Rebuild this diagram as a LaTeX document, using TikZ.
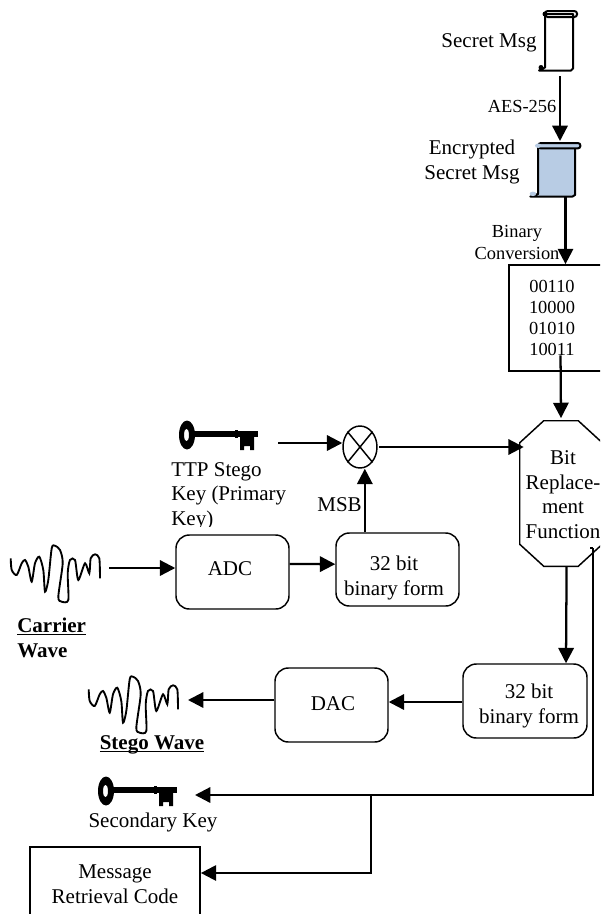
\documentclass[tikz,border=0pt]{standalone}
\usepackage{fontspec}
\setmainfont{Liberation Serif}
\usetikzlibrary{arrows.meta, shapes.geometric}

\definecolor{scrollblue}{HTML}{B8CCE4}

\tikzset{
  big/.style={font=\fontsize{15.75}{18.4}\selectfont, align=center, inner sep=0pt},
  heavy/.style={font=\fontsize{15.75}{18.4}\selectfont\bfseries, inner sep=0pt},
  small/.style={font=\fontsize{13.8}{16.2}\selectfont, align=center, inner sep=0pt},
  roundbox/.style={draw, line width=1.1pt, rounded corners=10pt, inner sep=0pt},
  squarebox/.style={draw, line width=1.3pt, inner sep=0pt},
  flow/.style={line width=1.7pt, -{Triangle[length=11.5pt, width=11.5pt]}},
  wire/.style={line width=1.7pt},
  waveicon/.pic={
    \draw[line width=1.4pt] plot[smooth, tension=0.45] coordinates {(0.7,13.3) (1.7,25) (6.7,30) (11.7,18.3) (15,15) (18.3,21.7) (21.7,36.7) (25,18.3) (29.3,11.7) (33.3,25) (35,46.7) (38.3,35) (41.7,3.3) (45,0.7) (50,5) (52.7,18.3) (48.3,51.7) (51.7,56.7) (58.3,55) (57.7,28.3) (60,15) (65,15) (68.3,35) (75,18.3) (79.3,28.3) (80.7,13.3) (85,9.3) (89.3,13.3) (90,33.3)};
  },
  keyicon/.pic={
    \fill[even odd rule] (8,15) ellipse [x radius=8, y radius=14.5] (7.5,15) ellipse [x radius=2.5, y radius=6.5];
    \fill (14,11) rectangle (79,17);
    \fill (56,10) rectangle (59,18);
    \fill (61,17) -- (75,17) -- (75,30) -- (71,30) -- (71,26) -- (65,26) -- (65,30) -- (61,30) -- cycle;
  },
  scrollicon/.pic={
    \draw[line width=1.5pt, line join=round, pic actions] (7,3) -- (7,56.5) -- (1,59.5) -- (33,59.5) -- (35,57.5) -- (35,3) -- cycle;
    \draw[line width=1.5pt, rounded corners=2pt, pic actions] (7,0) -- (39,0) -- (39,6) -- (7,6) -- cycle;
    \fill (7,3) circle (2.5);
    \fill (3,56.5) circle (2.5);
  },
}

\begin{document}
\begin{tikzpicture}[x=0.75pt, y=-0.75pt]
  \useasboundingbox (0,0) rectangle (600,914);
  \clip (0,0) rectangle (600,914);
  % encryption column
  \pic at (538,11) {scrollicon};
  \node[big] (secret) at (489,43) {Secret Msg};
  \pic[fill=scrollblue, xscale=1.32, yscale=0.9] at (529,143) {scrollicon};
  \node[big] (encrypted) at (472,162) {Encrypted\\Secret Msg};
  \coordinate (secretout) at (560,76);
  \coordinate (encryptedin) at (560,141);
  \coordinate (encryptedout) at (565.5,197);
  \draw[flow] (secretout) -- (encryptedin);
  \node[small] (aes) at (522,106) {AES-256};
  \node[small] (conversion) at (517,242.5) {Binary\\Conversion};
  % binary message block
  \node[squarebox, minimum width=98.25pt, minimum height=79.5pt] (binbox) at (574.5,318) {};
  \node[small, font=\fontsize{13.8}{15.75}\selectfont] (digits) at (552,317.5) {00110\\10000\\01010\\10011};
  \draw[flow] (encryptedout) -- (encryptedout |- binbox.north);
  % bit replacement
  \node[minimum width=61.5pt, minimum height=108.75pt, inner sep=0pt] (replace) at (561,493.5) {};
  \draw[line width=1.1pt] ([xshift=18pt]replace.north west) -- ([xshift=-18pt]replace.north east) -- ([yshift=-16.5pt]replace.north east) -- ([yshift=16.5pt]replace.south east) -- ([xshift=-18pt]replace.south east) -- ([xshift=18pt]replace.south west) -- ([yshift=16.5pt]replace.south west) -- ([yshift=-16.5pt]replace.north west) -- cycle;
  \node[big] (replacetext) at (563,494.5) {Bit\\Replace-\\ment\\Function};
  \draw[flow] ([xshift=6.4pt]digits.south) -- ([yshift=2pt]replace.north);
  % primary key and mixer
  \pic at (179,420) {keyicon};
  \begin{scope}
    \clip (160,455) rectangle (300,526);
    \node[big, align=left, anchor=north west] (ttp) at (171,462) {TTP Stego\\Key (Primary\\Key)};
  \end{scope}
  \node[draw, ellipse, line width=1.1pt, minimum width=25.5pt, minimum height=31.5pt, inner sep=0pt] (mixer) at (360,447) {};
  \draw[line width=1.1pt] (mixer.north west) -- (mixer.south east);
  \draw[line width=1.1pt] (mixer.north east) -- (mixer.south west);
  \coordinate (keyout) at (278,443);
  \draw[flow] (keyout) -- (mixer.west |- keyout);
  \draw[flow] ([xshift=1pt]mixer.east) -- ([xshift=3pt]replace.west |- mixer.east);
  % carrier path
  \pic at (10,545) {waveicon};
  \coordinate (waveout) at (109,568);
  \node[roundbox, minimum width=84.75pt, minimum height=55.5pt] (adc) at (232.5,572) {};
  \node[big] (adctext) at (230,569) {ADC};
  \node[roundbox, minimum width=92.25pt, minimum height=54.75pt] (upperbits) at (397.5,569.5) {};
  \node[big] (uppertext) at (394,578) {32 bit\\binary form};
  \draw[flow] (waveout) -- (adc.west |- waveout);
  \draw[flow] ([yshift=6pt]adc.east) -- ([yshift=4pt]upperbits.west);
  \draw[flow] ([xshift=-24.5pt]upperbits.north) -- ([xshift=-24.5pt]upperbits.north |- mixer.south);
  \node[big, anchor=east] (msb) at (362,505) {MSB};
  \node[heavy, anchor=base west] (carrier) at (17,632.5) {\underline{\smash{Carrier}}};
  \node[heavy, anchor=base west] (wave) at (17,657) {Wave};
  % stego output
  \node[roundbox, minimum width=93pt, minimum height=55.5pt] (lowerbits) at (525,701) {};
  \node[big] (lowertext) at (529,706) {32 bit\\binary form};
  \node[roundbox, minimum width=84.75pt, minimum height=55.5pt] (dac) at (331.5,705) {};
  \node[big] (dactext) at (333,704) {DAC};
  \pic at (88,676) {waveicon};
  \coordinate (stegoin) at (188,700);
  \draw[flow] ([xshift=4.2pt]replace.south) -- ([xshift=30.75pt]lowerbits.north);
  \draw[flow] ([yshift=-0.75pt]lowerbits.west) -- ([yshift=-0.75pt]lowerbits.west -| dac.east);
  \draw[flow] ([yshift=3.75pt]dac.west) -- (stegoin);
  \node[heavy, anchor=base] (stego) at (152,749) {\underline{\smash{Stego Wave}}};
  % secondary key and retrieval code
  \pic at (98,776) {keyicon};
  \node[big] (secondary) at (153,822) {Secondary Key};
  \coordinate (keytwoin) at (195,795);
  \coordinate (junction) at (371,795);
  \coordinate (sideout) at (593,548);
  \node[squarebox, minimum width=127.5pt, minimum height=60pt] (retrieval) at (115,887) {};
  \node[big] (retrievaltext) at (115,884) {Message\\Retrieval Code};
  \draw[wire] (sideout) -- ++(-3,0);
  \draw[flow] (sideout) -- (sideout |- keytwoin) -- (keytwoin);
  \draw[flow] (junction) |- (retrieval.east |- 0,873);
\end{tikzpicture}
\end{document}
